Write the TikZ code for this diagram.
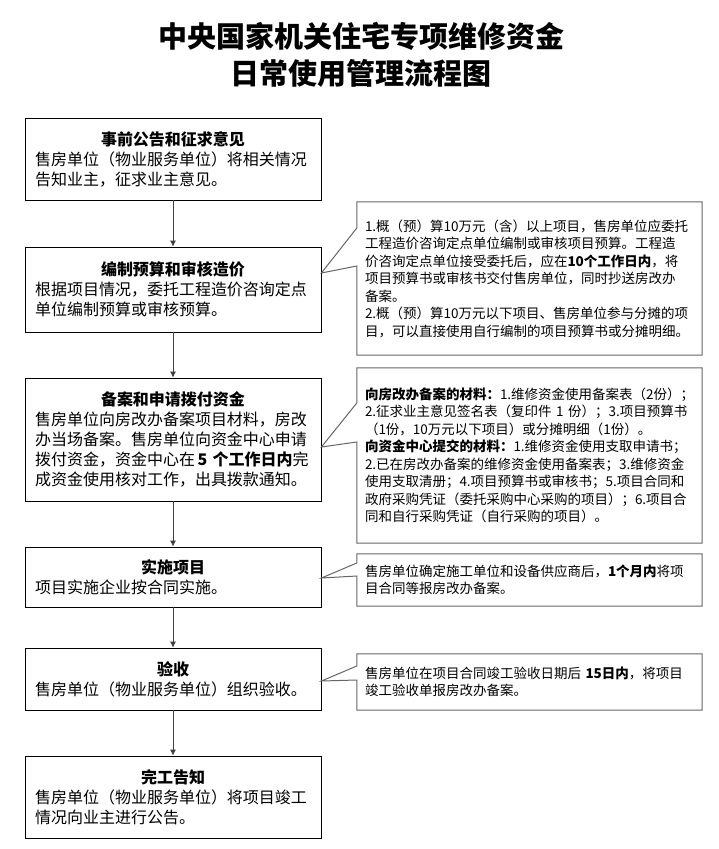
\documentclass[tikz,border=0pt]{standalone}
\usepackage{fontspec}
\setmainfont{Noto Sans CJK SC}
\usetikzlibrary{arrows.meta}
\newcommand{\steptitle}[1]{\makebox[276pt][c]{\textbf{#1}}\\}

\begin{document}
\begin{tikzpicture}[x=1pt,y=-1pt]
	\tikzstyle{stepbox}=[draw=black,line width=0.8pt,minimum width=296pt,inner xsep=10pt,inner ysep=2pt,text width=276pt,align=left,font=\fontsize{16}{20}\selectfont]
	\tikzstyle{notebox}=[minimum width=345pt,inner xsep=8pt,inner ysep=2pt,text width=329pt,align=left,font=\fontsize{13.5}{17.5}\selectfont]
	\tikzstyle{noteline}=[draw=black!60,line width=1pt,line join=miter]
	\tikzstyle{flow}=[draw=black!75,line width=0.8pt,-{Latex[length=6pt,width=6pt]}]
	\useasboundingbox (0,0) rectangle (718,849);
	\node[font=\fontsize{29}{37}\selectfont\bfseries,align=center] (title) at (361,55) {中央国家机关住宅专项维修资金\\日常使用管理流程图};
	\node[stepbox,minimum height=82pt] (b1) at (173,159) {\steptitle{事前公告和征求意见}售房单位（物业服务单位）将相关情况\\告知业主，征求业主意见。};
	\node[stepbox,minimum height=85pt] (b2) at (173,289.5) {\steptitle{编制预算和审核造价}根据项目情况，委托工程造价咨询定点\\单位编制预算或审核预算。};
	\node[stepbox,minimum height=123pt] (b3) at (173,439.5) {\steptitle{备案和申请拨付资金}售房单位向房改办备案项目材料，房改\\办当场备案。售房单位向资金中心申请\\拨付资金，资金中心在\,\textbf{5~个工作日内}完\\成资金使用核对工作，出具拨款通知。};
	\node[stepbox,minimum height=60pt] (b4) at (173,577) {\steptitle{实施项目}项目实施企业按合同实施。};
	\node[stepbox,minimum height=62pt] (b5) at (173,679) {\steptitle{验收}售房单位（物业服务单位）组织验收。};
	\node[stepbox,minimum height=82pt] (b6) at (173,797) {\steptitle{完工告知}售房单位（物业服务单位）将项目竣工\\情况向业主进行公告。};
	\node[notebox,minimum height=153pt] (c1) at (529.5,278.5) {1.概（预）算10万元（含）以上项目，售房单位应委托\\工程造价咨询定点单位编制或审核项目预算。工程造\\价咨询定点单位接受委托后，应在\textbf{10个工作日内}，将\\项目预算书或审核书交付售房单位，同时抄送房改办\\备案。\\2.概（预）算10万元以下项目、售房单位参与分摊的项\\目，可以直接使用自行编制的项目预算书或分摊明细。};
	\node[notebox,minimum height=175pt] (c2) at (529.5,455.5) {\textbf{向房改办备案的材料：}1.维修资金使用备案表（2份）；\\2.征求业主意见签名表（复印件~1~份）；3.项目预算书\\（1份，10万元以下项目）或分摊明细（1份）。\\\textbf{向资金中心提交的材料：}1.维修资金使用支取申请书；\\2.已在房改办备案的维修资金使用备案表；3.维修资金\\使用支取清册；4.项目预算书或审核书；5.项目合同和\\政府采购凭证（委托采购中心采购的项目）；6.项目合\\同和自行采购凭证（自行采购的项目）。};
	\node[notebox,minimum height=52pt] (c3) at (529.5,580) {售房单位确定施工单位和设备供应商后，\textbf{1个月内}将项\\目合同等报房改办备案。};
	\node[notebox,minimum height=56pt] (c4) at (529.5,682) {售房单位在项目合同竣工验收日期后~\textbf{15日内}，将项目\\竣工验收单报房改办备案。};
	\foreach \a/\b in {b1/b2,b2/b3,b3/b4,b4/b5,b5/b6}
		\draw[flow] (\a) -- (\b);
	\foreach \c/\s/\ya/\yb/\yt in {c1/b2/228/266/273,c2/b3/403/442/447,c3/b4/563/576/578,c4/b5/666/680/681}{
		\coordinate (\c tip) at (\s.east |- 0,\yt);
		\draw[noteline] (\c.north west) -- (\c.north east) -- (\c.south east) -- (\c.south west) -- (\c.west |- 0,\yb) -- (\c tip) -- (\c.west |- 0,\ya) -- cycle;
	}
\end{tikzpicture}
\end{document}
